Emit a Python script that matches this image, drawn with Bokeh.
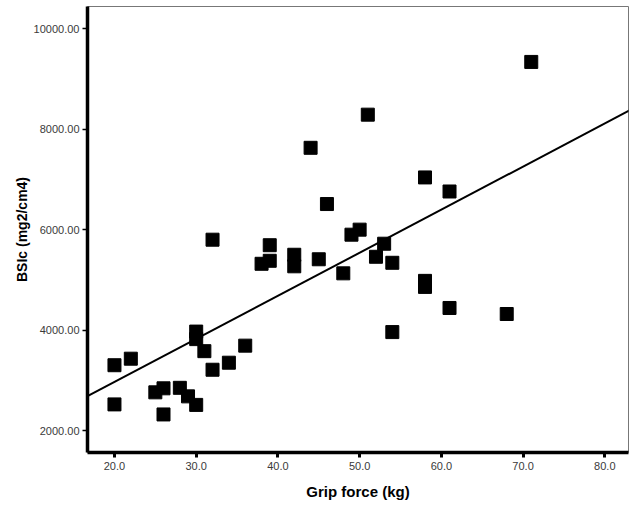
from bokeh.plotting import figure
from bokeh.models import Range1d, FixedTicker, NumeralTickFormatter, Slope, ColumnDataSource
from bokeh.embed import file_html
from bokeh.resources import INLINE

# Data
grip_force = [20, 20, 22, 25, 26, 26, 28, 29, 30, 30, 30, 31, 32, 34, 36,
              32, 38, 39, 39, 42, 42, 45, 48, 49, 50, 52, 53, 54, 54,
              58, 58, 61, 68, 51, 44, 46, 58, 61, 71]
bsic = [3300, 2520, 3430, 2760, 2840, 2320, 2850, 2680, 2510, 3970, 3820, 3580, 3210, 3350, 3690,
        5800, 5320, 5380, 5690, 5500, 5270, 5410, 5130, 5900, 6000, 5460, 5720, 5340, 3960,
        4980, 4860, 4440, 4320, 8290, 7630, 6510, 7040, 6760, 9340]

# Fit line
fit_slope = 85.8
fit_intercept = 1250.0

x_ticks = [20, 30, 40, 50, 60, 70, 80]
y_ticks = [2000, 4000, 6000, 8000, 10000]

source = ColumnDataSource(data=dict(x=grip_force, y=bsic))

p = figure(width=636, height=506, frame_width=541, frame_height=446,
           min_border_left=87, min_border_right=8, min_border_top=6, min_border_bottom=54,
           x_range=Range1d(16.7, 82.9), y_range=Range1d(1562, 10444),
           output_backend="svg", toolbar_location=None)

p.background_fill_color = "white"
p.border_fill_color = "white"
p.outline_line_color = "#777777"
p.outline_line_width = 1
p.xgrid.visible = False
p.ygrid.visible = False

p.add_layout(Slope(gradient=fit_slope, y_intercept=fit_intercept,
                   line_color="black", line_width=2))

p.scatter("x", "y", source=source, marker="square", size=13,
          fill_color="black", line_color="black")

for ax in (p.xaxis[0], p.yaxis[0]):
    ax.axis_line_width = 3.5
    ax.axis_line_color = "black"
    ax.minor_tick_line_color = None
    ax.major_label_text_font = "Liberation Sans"
    ax.major_label_text_font_size = "11px"
    ax.major_label_text_color = "#3a3a3a"
    ax.axis_label_text_font = "Liberation Sans"
    ax.axis_label_text_font_style = "bold"
    ax.axis_label_text_color = "black"

p.xaxis.ticker = FixedTicker(ticks=x_ticks)
p.xaxis.formatter = NumeralTickFormatter(format="0.0")
p.xaxis.axis_label = "Grip force (kg)"
p.xaxis.axis_label_text_font_size = "15px"
p.xaxis.major_tick_line_width = 3
p.xaxis.major_tick_in = 0
p.xaxis.major_tick_out = 5
p.xaxis.major_label_standoff = 4
p.xaxis.axis_label_standoff = 10

p.yaxis.ticker = FixedTicker(ticks=y_ticks)
p.yaxis.formatter = NumeralTickFormatter(format="0.00")
p.yaxis.axis_label = "BSIc (mg2/cm4)"
p.yaxis.axis_label_text_font_size = "14px"
p.yaxis.major_tick_line_width = 1.5
p.yaxis.major_tick_in = 0
p.yaxis.major_tick_out = 5
p.yaxis.major_label_standoff = 3
p.yaxis.axis_label_standoff = 1

open("out.html", "w").write(file_html(p, INLINE))
